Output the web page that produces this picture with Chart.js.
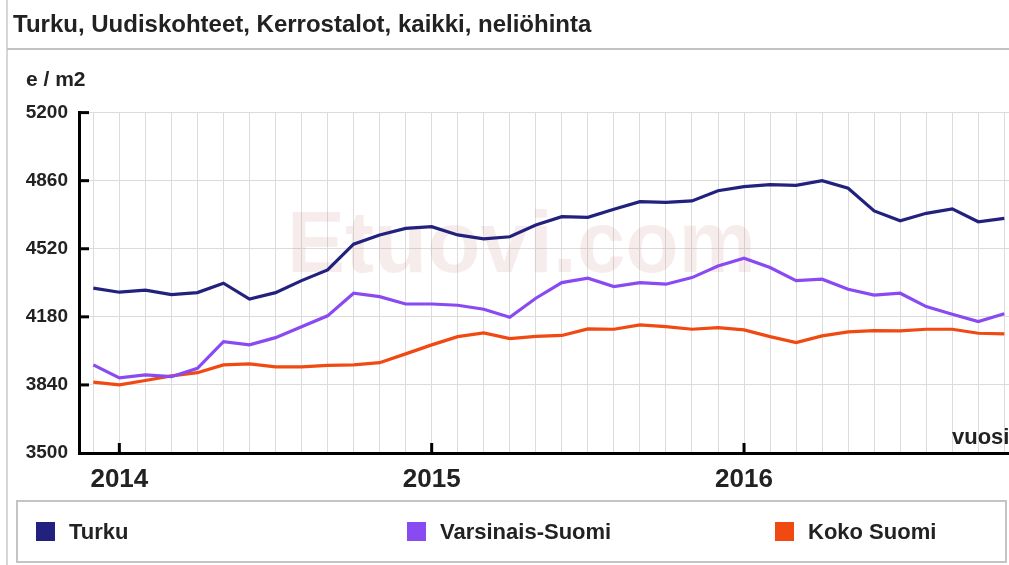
<!DOCTYPE html>
<html>
<head>
<meta charset="utf-8">
<title>Turku, Uudiskohteet, Kerrostalot, kaikki, neliöhinta</title>
<script src="https://cdn.jsdelivr.net/npm/chart.js@4.4.1/dist/chart.umd.min.js"></script>
<style>
    body {
        margin: 0;
        width: 1009px;
        height: 565px;
        position: relative;
        overflow: hidden;
        background: #fff;
        font-family: "Liberation Sans", Arial, sans-serif;
        color: #222;
    }
    #frameLeft { position: absolute; left: 6px; top: 0; width: 2px; height: 565px; background: #d6d6d6; }
    #headLine { position: absolute; left: 7px; right: 0; top: 48px; height: 2px; background: #c2c2c2; }
    #title { position: absolute; left: 13px; top: 10px; font-size: 24px; line-height: 28px; font-weight: bold; white-space: nowrap; }
    #unit { position: absolute; left: 26px; top: 67px; font-size: 21px; line-height: 24px; font-weight: bold; }
    #vuosi { position: absolute; left: 952px; top: 424px; font-size: 22px; line-height: 26px; font-weight: bold; }
    #chartBox { position: absolute; left: 0; top: 0; width: 1009px; height: 565px; }
    #legend { position: absolute; left: 16px; top: 500px; width: 987px; height: 59px; border: 2px solid #c4c4c4; }
    .item { position: absolute; top: 0; height: 59px; display: flex; align-items: center; font-size: 22px; font-weight: bold; white-space: nowrap; }
    .sw { width: 19px; height: 19px; margin-right: 14px; }
</style>
</head>
<body>
<div id="frameLeft"></div>
<div id="headLine"></div>
<div id="chartBox"><canvas id="priceChart" width="1009" height="565"></canvas></div>
<div id="title">Turku, Uudiskohteet, Kerrostalot, kaikki, neliöhinta</div>
<div id="unit">e / m2</div>
<div id="vuosi">vuosi</div>
<div id="legend"></div>

<script>
// kuukaudet 12/2013 - 11/2016
var months = [
    '2013-12',
    '2014-01', '2014-02', '2014-03', '2014-04', '2014-05', '2014-06',
    '2014-07', '2014-08', '2014-09', '2014-10', '2014-11', '2014-12',
    '2015-01', '2015-02', '2015-03', '2015-04', '2015-05', '2015-06',
    '2015-07', '2015-08', '2015-09', '2015-10', '2015-11', '2015-12',
    '2016-01', '2016-02', '2016-03', '2016-04', '2016-05', '2016-06',
    '2016-07', '2016-08', '2016-09', '2016-10', '2016-11'
];

// neliöhinnat, e / m2
var turku = [4323, 4303, 4313, 4291, 4301, 4348, 4269, 4301, 4361, 4414, 4543, 4589,
             4622, 4630, 4589, 4569, 4580, 4639, 4680, 4677, 4717, 4755, 4752, 4759,
             4810, 4830, 4840, 4837, 4860, 4822, 4709, 4660, 4697, 4719, 4655, 4672];
var varsinaisSuomi = [3940, 3875, 3890, 3881, 3923, 4056, 4040, 4076, 4131, 4185, 4298, 4281,
                      4244, 4244, 4238, 4218, 4178, 4273, 4351, 4373, 4331, 4351, 4343, 4376,
                      4434, 4473, 4426, 4361, 4368, 4318, 4289, 4298, 4231, 4193, 4156, 4195];
var kokoSuomi = [3854, 3840, 3862, 3885, 3901, 3940, 3945, 3930, 3930, 3938, 3940, 3951,
                 3995, 4040, 4081, 4100, 4071, 4082, 4087, 4120, 4118, 4140, 4131, 4118,
                 4126, 4115, 4081, 4051, 4085, 4105, 4111, 4110, 4118, 4118, 4098, 4095];

var yTicks = [3500, 3840, 4180, 4520, 4860, 5200];
var seriesNames = ['Turku', 'Varsinais-Suomi', 'Koko Suomi'];
var seriesColors = ['#22227e', '#8a4af2', '#f04a12'];

var FONT = '"Liberation Sans", Arial, sans-serif';

function toPoints(arr) {
    return arr.map(function(v, i) { return { x: i, y: v }; });
}

// pienet akselimerkit kaavion sisäpuolelle + vesileima
var axisMarks = {
    id: 'axisMarks',
    beforeDatasetsDraw: function(chart) {
        var ctx = chart.ctx;
        ctx.save();
        ctx.font = 'bold 87px ' + FONT;
        ctx.fillStyle = 'rgba(200, 120, 120, 0.14)';
        ctx.textBaseline = 'alphabetic';
        ctx.fillText('Etuovi.com', 287, 272);
        ctx.restore();
    },
    afterDraw: function(chart) {
        var ctx = chart.ctx, ca = chart.chartArea;
        var xs = chart.scales.x, ys = chart.scales.y;
        ctx.save();
        ctx.strokeStyle = '#000';
        ctx.lineWidth = 3;
        yTicks.forEach(function(v) {
            if (v === yTicks[0]) return;
            var py = ys.getPixelForValue(v);
            ctx.beginPath();
            ctx.moveTo(ca.left, py);
            ctx.lineTo(ca.left + 10, py);
            ctx.stroke();
        });
        months.forEach(function(m, i) {
            if (m.slice(5) !== '01') return;
            var px = xs.getPixelForValue(i);
            ctx.beginPath();
            ctx.moveTo(px, ca.bottom);
            ctx.lineTo(px, ca.bottom - 10);
            ctx.stroke();
        });
        ctx.restore();
    }
};

var seriesData = [turku, varsinaisSuomi, kokoSuomi];

var chart = new Chart(document.getElementById('priceChart').getContext('2d'), {
    type: 'line',
    data: {
        datasets: seriesData.map(function(arr, k) {
            return {
                label: seriesNames[k],
                data: toPoints(arr),
                borderColor: seriesColors[k],
                backgroundColor: seriesColors[k],
                borderWidth: 3.2,
                pointRadius: 0,
                tension: 0,
                fill: false
            };
        })
    },
    options: {
        responsive: false,
        animation: false,
        layout: { padding: { top: 112.6, right: 0, bottom: 0, left: 0 } },
        plugins: {
            legend: { display: false },
            tooltip: { enabled: false }
        },
        scales: {
            x: {
                type: 'linear',
                min: -0.55,
                max: 35.18,
                afterBuildTicks: function(s) {
                    s.ticks = months.map(function(m, i) { return { value: i }; });
                },
                afterFit: function(s) {
                    s.height = 112;
                    s.paddingLeft = 0;
                    s.paddingRight = 0;
                },
                grid: { color: '#dcdcdc', lineWidth: 1, drawTicks: false },
                border: { display: true, color: '#000', width: 3 },
                ticks: {
                    autoSkip: false,
                    maxRotation: 0,
                    padding: 11,
                    color: '#222',
                    font: { family: FONT, size: 26, weight: 'bold' },
                    callback: function(v) {
                        var m = months[v];
                        return m && m.slice(5) === '01' ? m.slice(0, 4) : '';
                    }
                }
            },
            y: {
                min: 3500,
                max: 5200,
                afterBuildTicks: function(s) {
                    s.ticks = yTicks.map(function(v) { return { value: v }; });
                },
                afterFit: function(s) {
                    s.width = 79;
                    s.paddingTop = 0;
                    s.paddingBottom = 0;
                },
                grid: { color: '#dcdcdc', lineWidth: 1, drawTicks: false },
                border: { display: true, color: '#000', width: 3 },
                ticks: {
                    padding: 11,
                    color: '#222',
                    font: { family: FONT, size: 19, weight: 'bold' },
                    callback: function(v) { return String(v); }
                }
            }
        }
    },
    plugins: [axisMarks]
});

// selite
var legend = document.getElementById('legend');
var itemLeft = [18, 389, 757];
seriesNames.forEach(function(name, k) {
    var item = document.createElement('div');
    item.className = 'item';
    item.style.left = itemLeft[k] + 'px';
    item.innerHTML = '<div class="sw" style="background:' + seriesColors[k] + '"></div><span>' + name + '</span>';
    legend.appendChild(item);
});
</script>
</body>
</html>
